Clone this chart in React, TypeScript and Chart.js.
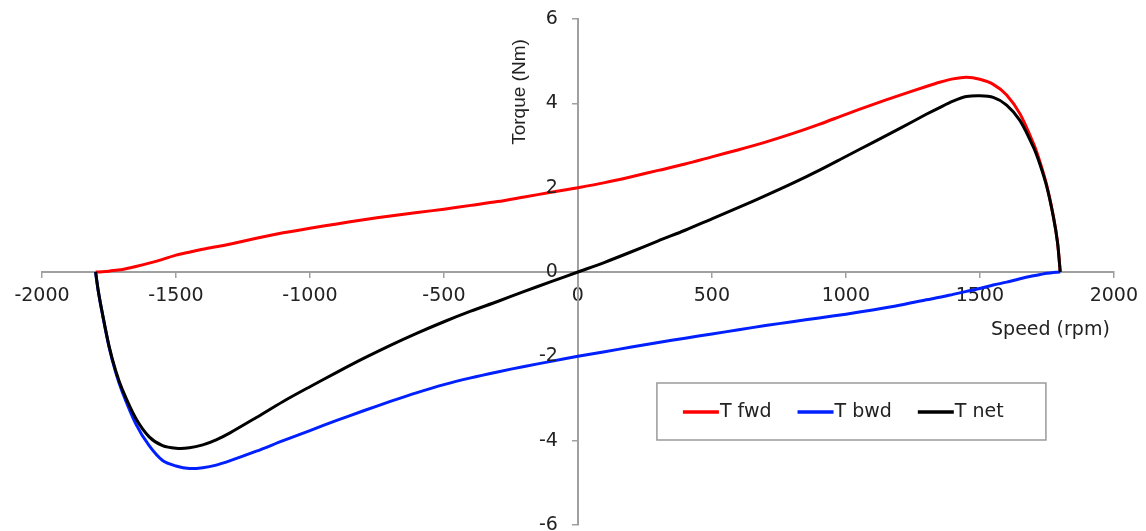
import React, { useEffect, useRef } from "react";
import { Chart, registerables } from "chart.js";

Chart.register(...registerables);

const speeds = [-1800, -1790, -1775, -1750, -1725, -1700, -1650, -1600, -1550, -1500, -1450, -1400, -1350, -1300, -1200, -1100, -1000, -900, -800, -700, -600, -500, -400, -300, -200, -100, 0, 100, 200, 300, 400, 500, 600, 700, 800, 900, 1000, 1100, 1200, 1300, 1350, 1400, 1450, 1500, 1550, 1600, 1650, 1700, 1725, 1750, 1775, 1790, 1800];

const tFwd = [0, 0, 0.005, 0.02, 0.04, 0.06, 0.13, 0.21, 0.3, 0.4, 0.47, 0.54, 0.6, 0.66, 0.8, 0.93, 1.04, 1.14, 1.24, 1.33, 1.41, 1.49, 1.58, 1.67, 1.78, 1.89, 2.0, 2.12, 2.26, 2.41, 2.56, 2.73, 2.9, 3.08, 3.28, 3.5, 3.74, 3.97, 4.19, 4.4, 4.5, 4.58, 4.62, 4.57, 4.45, 4.2, 3.75, 3.05, 2.6, 2.05, 1.3, 0.7, 0];

const tBwd = [0, -0.45, -0.98, -1.77, -2.38, -2.85, -3.6, -4.12, -4.47, -4.6, -4.66, -4.64, -4.58, -4.48, -4.25, -4.0, -3.76, -3.52, -3.29, -3.07, -2.86, -2.67, -2.51, -2.37, -2.24, -2.12, -2.0, -1.89, -1.78, -1.67, -1.57, -1.47, -1.37, -1.27, -1.18, -1.09, -1.0, -0.9, -0.79, -0.66, -0.6, -0.53, -0.46, -0.39, -0.31, -0.24, -0.16, -0.09, -0.06, -0.03, -0.01, -0.005, 0];

const tNet = [0, -0.45, -0.97, -1.75, -2.34, -2.79, -3.47, -3.91, -4.12, -4.18, -4.17, -4.1, -3.98, -3.82, -3.45, -3.07, -2.72, -2.38, -2.05, -1.74, -1.45, -1.18, -0.93, -0.7, -0.46, -0.23, 0, 0.23, 0.48, 0.74, 0.99, 1.26, 1.53, 1.81, 2.1, 2.41, 2.74, 3.07, 3.4, 3.74, 3.9, 4.05, 4.16, 4.18, 4.14, 3.96, 3.59, 2.96, 2.54, 2.02, 1.29, 0.69, 0];

const seriesLabels = ["T fwd", "T bwd", "T net"];
const seriesColors = ["#ff0000", "#0020ff", "#000000"];

const xTicks = [-2000, -1500, -1000, -500, 0, 500, 1000, 1500, 2000];
const yTicks = [-6, -4, -2, 0, 2, 4, 6];

const xTitle = "Speed (rpm)";
const yTitle = "Torque (Nm)";

const TEXT = "#222222";
const AXIS = "#a0a0a0";
const FONT_FAMILY = '"DejaVu Sans", sans-serif';

const overlayPlugin = {
  id: "overlay",
  afterDraw(chart: any) {
    const ctx = chart.ctx as CanvasRenderingContext2D;
    const xs = chart.scales.x;
    const ys = chart.scales.y;
    const x0 = xs.getPixelForValue(0);
    const y0 = ys.getPixelForValue(0);
    ctx.save();
    ctx.fillStyle = TEXT;
    // y tick labels (from the y scale's ticks)
    ctx.font = "19px " + FONT_FAMILY;
    ctx.textAlign = "right";
    ctx.textBaseline = "middle";
    ys.ticks.forEach((t: any) => {
      ctx.fillText(String(t.value), x0 - 20, ys.getPixelForValue(t.value));
    });
    // x title
    ctx.textAlign = "right";
    ctx.fillText(xTitle, xs.right - 4, y0 + 58);
    // y title
    ctx.save();
    ctx.translate(x0 - 58, ys.top + 73);
    ctx.rotate(-Math.PI / 2);
    ctx.font = '19px "Liberation Sans", Arial, sans-serif';
    ctx.textAlign = "center";
    ctx.textBaseline = "middle";
    ctx.fillText(yTitle, 0, 0);
    ctx.restore();
    // legend
    const bx = x0 + 79;
    const by = y0 + 111;
    const bw = 389;
    const bh = 57;
    ctx.fillStyle = "#ffffff";
    ctx.fillRect(bx, by, bw, bh);
    ctx.strokeStyle = "#9a9a9a";
    ctx.lineWidth = 1.5;
    ctx.strokeRect(bx, by, bw, bh);
    ctx.font = "19px " + FONT_FAMILY;
    ctx.textAlign = "left";
    ctx.textBaseline = "middle";
    let cx = bx + 26;
    const cy = by + 29;
    chart.data.datasets
      .slice()
      .sort((a: any, b: any) => a.legendIndex - b.legendIndex)
      .forEach((ds: any) => {
        ctx.strokeStyle = ds.borderColor;
        ctx.lineWidth = 3.5;
        ctx.beginPath();
        ctx.moveTo(cx, cy);
        ctx.lineTo(cx + 36, cy);
        ctx.stroke();
        ctx.fillStyle = TEXT;
        ctx.fillText(ds.label, cx + 37, cy);
        cx += 37 + ctx.measureText(ds.label).width + 26;
      });
    ctx.restore();
  },
};

export default function App() {
  const ref = useRef<HTMLCanvasElement | null>(null);
  useEffect(() => {
    document.body.style.margin = "0";
    if (!ref.current) return;
    const series = [tFwd, tBwd, tNet];
    const orders = [2, 1, 0];
    const chart = new Chart(ref.current, {
      type: "line",
      data: {
        datasets: series.map((vals, i) => ({
          label: seriesLabels[i],
          legendIndex: i,
          data: speeds.map((s, j) => ({ x: s, y: vals[j] })),
          borderColor: seriesColors[i],
          backgroundColor: seriesColors[i],
          borderWidth: 3,
          pointRadius: 0,
          fill: false,
          tension: 0.3,
          order: orders[i],
        })) as any,
      },
      plugins: [overlayPlugin],
      options: {
        animation: false,
        responsive: false,
        layout: { padding: { left: 42, right: 29, top: 19, bottom: 6 } },
        plugins: {
          legend: { display: false },
          tooltip: { enabled: false },
          title: { display: false },
        },
        scales: {
          x: {
            type: "linear",
            min: -2000,
            max: 2000,
            position: { y: 0 } as any,
            afterBuildTicks: (axis: any) => {
              axis.ticks = xTicks.map((v) => ({ value: v }));
            },
            ticks: {
              callback: (v: any) => String(v),
              color: TEXT,
              font: { family: FONT_FAMILY, size: 19 },
              padding: 8,
              maxRotation: 0,
              autoSkip: false,
            },
            grid: {
              display: true,
              drawOnChartArea: false,
              drawTicks: true,
              tickLength: 5,
              color: AXIS,
              lineWidth: 1.5,
            },
            border: { display: true, color: AXIS, width: 2 },
          },
          y: {
            type: "linear",
            min: -6,
            max: 6,
            position: { x: 0 } as any,
            afterBuildTicks: (axis: any) => {
              axis.ticks = yTicks.map((v) => ({ value: v }));
            },
            ticks: {
              display: false,
            },
            grid: {
              display: true,
              drawOnChartArea: false,
              drawTicks: true,
              tickLength: 5,
              color: AXIS,
              lineWidth: 1.5,
            },
            border: { display: true, color: AXIS, width: 2 },
          },
        },
      },
    });
    return () => chart.destroy();
  }, []);
  return (
    <div style={{ width: 1146, height: 531, background: "#ffffff" }}>
      <canvas ref={ref} width={1146} height={531} style={{ display: "block" }} />
    </div>
  );
}
